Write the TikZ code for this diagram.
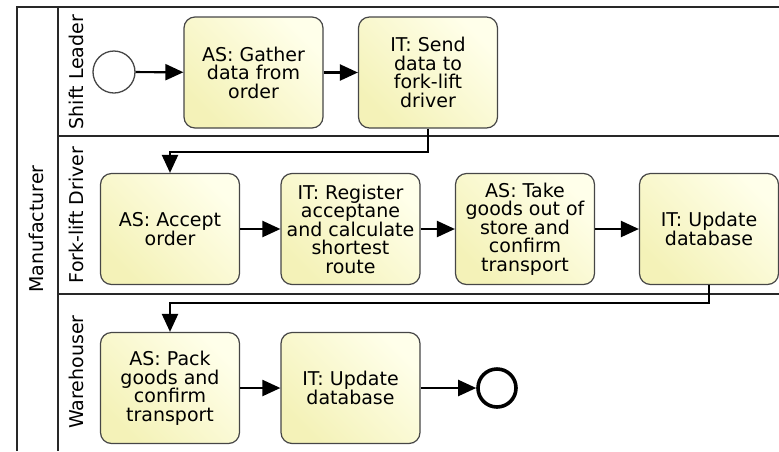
\documentclass[tikz,border=0pt]{standalone}
\usepackage{fontspec}
\setmainfont{DejaVu Sans}
\usetikzlibrary{arrows.meta}

\definecolor{tasklight}{RGB}{255,255,234}
\definecolor{taskdark}{RGB}{244,242,184}
\definecolor{taskline}{RGB}{70,70,70}
\definecolor{poolline}{RGB}{40,40,40}

\begin{document}
\begin{tikzpicture}[x=1pt, y=-1pt,
    task/.style={rectangle, rounded corners=11pt, draw=taskline, line width=1.2pt,
        top color=tasklight, bottom color=taskdark, shading angle=-45,
        minimum width=139pt, minimum height=111pt, inner sep=0pt, align=center,
        font=\fontsize{19}{18.5}\selectfont},
    startevent/.style={circle, draw=taskline, line width=1.3pt, fill=white,
        minimum size=42pt, inner sep=0pt},
    endevent/.style={circle, draw=black, line width=3.6pt, fill=white,
        minimum size=38pt, inner sep=0pt},
    lanename/.style={rotate=90, font=\fontsize{19}{19}\selectfont},
    flow/.style={line width=2.2pt, -{Triangle[length=18pt, width=16pt]}}]
    \useasboundingbox (0,0) rectangle (779,451);

    % pool and lanes
    \draw[poolline, line width=1.6pt] (17,451) -- (17,7) -- (779,7);
    \draw[poolline, line width=1.6pt] (58,7) -- (58,451);
    \draw[poolline, line width=1.6pt] (58,136) -- (779,136);
    \draw[poolline, line width=1.6pt] (58,294) -- (779,294);

    \node[lanename] (pool) at (36,229) {Manufacturer};
    \node[lanename] (leader) at (76,72) {Shift Leader};
    \node[lanename] (driver) at (76,215) {Fork-lift Driver};
    \node[lanename] (whouse) at (76,372) {Warehouser};

    % shift leader
    \node[startevent] (start) at (114,72) {};
    \node[task] (gather) at (253.5,72.5) {AS: Gather\\data from\\order};
    \node[task] (send) at (428,72.5) {IT: Send\\data to\\fork-lift\\driver};

    % fork-lift driver
    \node[task] (accept) at (170,229) {AS: Accept\\order};
    \node[task] (register) at (350.5,229) {IT: Register\\acceptane\\and calculate\\shortest\\route};
    \node[task] (take) at (525,229) {AS: Take\\goods out of\\store and\\confirm\\transport};
    \node[task] (update) at (709,229) {IT: Update\\database};

    % warehouser
    \node[task] (pack) at (170,388) {AS: Pack\\goods and\\confirm\\transport};
    \node[task] (updatewh) at (350.5,388) {IT: Update\\database};
    \node[endevent] (end) at (497,388) {};

    \coordinate (bendA) at (170,152);
    \coordinate (bendB) at (170,303);

    \draw[flow] (start) -- (gather);
    \draw[flow] (gather) -- (send);
    \draw[flow] (send.south) |- (bendA) -- (accept.north);
    \draw[flow] (accept) -- (register);
    \draw[flow] (register) -- (take);
    \draw[flow] (take) -- (update);
    \draw[flow] (update.south) |- (bendB) -- (pack.north);
    \draw[flow] (pack) -- (updatewh);
    \draw[flow] (updatewh) -- (end);
\end{tikzpicture}
\end{document}
